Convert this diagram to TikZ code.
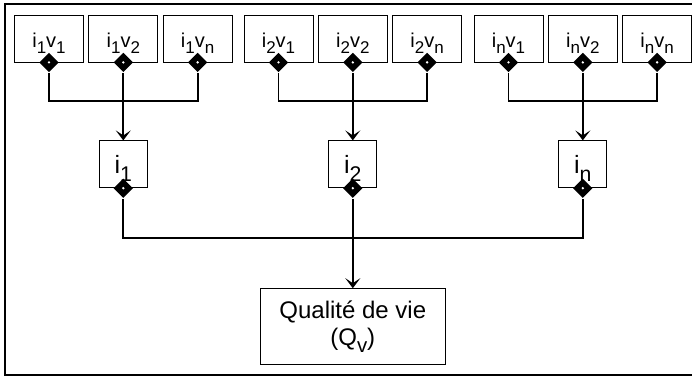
\documentclass[tikz,border=0pt]{standalone}
\usepackage{fontspec}
\setmainfont{Liberation Sans}
\usetikzlibrary{positioning}
\usetikzlibrary{shapes.geometric}
\usetikzlibrary{arrows.meta}
\newcommand{\lsub}[1]{\raisebox{-.3em}{\scalebox{.85}{#1}}}

\begin{document}
\begin{tikzpicture}[x=1pt,y=-1pt,node distance=4.5pt,line width=1.8pt,
  leaf/.style={draw,line width=0.8pt,minimum width=69pt,minimum height=47pt,inner sep=0pt,
    font=\fontsize{20}{22}\selectfont,text height=22pt,text depth=5pt},
  crit/.style={draw,line width=0.8pt,minimum width=48pt,minimum height=47pt,inner sep=0pt,
    font=\fontsize{25}{28}\selectfont,text height=26pt,text depth=7pt},
  knot/.style={diamond,fill=black,inner sep=0pt,minimum width=20pt,minimum height=20pt,
    path picture={\fill[white] (path picture bounding box.center) circle (1.3pt);}},
  >={Stealth[length=10pt,width=15pt,inset=5pt]}]
  \useasboundingbox (0,0) rectangle (692,378);
  \draw[line width=1.5pt] (692,4) -- (5,4) -- (5,375) -- (692,375);
  % indicateurs x variables
  \node[leaf] (i1v1) at (49,38.5) {i\lsub{1}v\lsub{1}};
  \node[leaf,right= of i1v1] (i1v2) {i\lsub{1}v\lsub{2}};
  \node[leaf,right= of i1v2] (i1vn) {i\lsub{1}v\lsub{n}};
  \node[leaf] (i2v1) at (278.5,38.5) {i\lsub{2}v\lsub{1}};
  \node[leaf,right= of i2v1] (i2v2) {i\lsub{2}v\lsub{2}};
  \node[leaf,right= of i2v2] (i2vn) {i\lsub{2}v\lsub{n}};
  \node[leaf] (inv1) at (508.5,38.5) {i\lsub{n}v\lsub{1}};
  \node[leaf,right= of inv1] (inv2) {i\lsub{n}v\lsub{2}};
  \node[leaf,right= of inv2] (invn) {i\lsub{n}v\lsub{n}};
  % indicateurs
  \node[crit,below=78pt of i1v2] (i1) {i\lsub{1}};
  \node[crit,below=78pt of i2v2] (i2) {i\lsub{2}};
  \node[crit,below=78pt of inv2] (in) {i\lsub{n}};
  \node[draw,line width=0.8pt,minimum width=185pt,minimum height=76pt,align=center,
    font=\fontsize{24}{27}\selectfont,below=100pt of i2] (qv) {Qualité de vie\\(Q\lsub{v})};
  % jonctions
  \node[knot] (k11) at (i1v1.south) {};
  \node[knot] (k12) at (i1v2.south) {};
  \node[knot] (k1n) at (i1vn.south) {};
  \node[knot] (k21) at (i2v1.south) {};
  \node[knot] (k22) at (i2v2.south) {};
  \node[knot] (k2n) at (i2vn.south) {};
  \node[knot] (kn1) at (inv1.south) {};
  \node[knot] (kn2) at (inv2.south) {};
  \node[knot] (knn) at (invn.south) {};
  \node[knot] (e1) at (i1.south) {};
  \node[knot] (e2) at (i2.south) {};
  \node[knot] (en) at (in.south) {};
  \coordinate (lvl1) at (0,101);
  \coordinate (lvl2) at (0,238);
  \draw (k11) |- (lvl1 -| k12) -| (k1n);
  \draw (k21) |- (lvl1 -| k22) -| (k2n);
  \draw (kn1) |- (lvl1 -| kn2) -| (knn);
  \draw[->] (k12)--(i1);
  \draw[->] (k22)--(i2);
  \draw[->] (kn2)--(in);
  \draw (e1) |- (lvl2 -| e2) -| (en);
  \draw[->] (e2)--(qv);
\end{tikzpicture}
\end{document}
